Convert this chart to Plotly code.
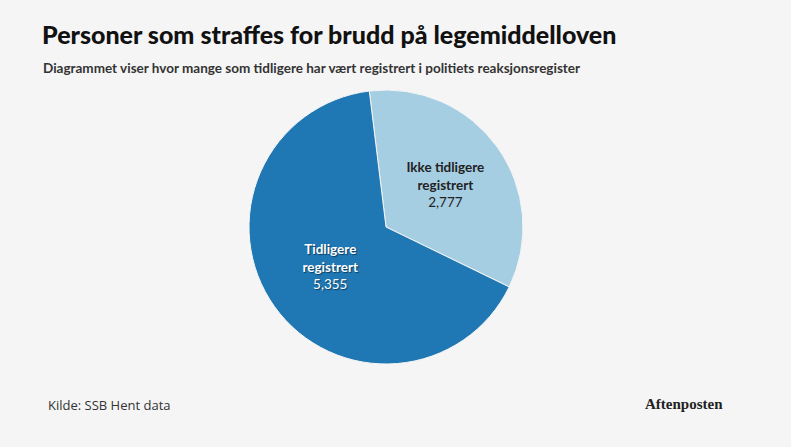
import plotly.graph_objects as go

# data
labels = ["Ikke tidligere<br>registrert", "Tidligere<br>registrert"]
values = [2777, 5355]
colors = ["#a6cee3", "#1f78b4"]
text_colors = ["#222222", "#ffffff"]

title = "Personer som straffes for brudd på legemiddelloven"
subtitle = "Diagrammet viser hvor mange som tidligere har vært registrert i politiets reaksjonsregister"
source = "Kilde: SSB Hent data"

FONT = "Lato, Roboto, sans-serif"
W, H = 791, 447
cx, cy, r = 386, 227, 137


def px_y(y):
    # pixel row from the top -> paper coordinate
    return 1 - y / H


fig = go.Figure()
fig.add_trace(go.Pie(
    labels=labels,
    values=values,
    sort=False,
    direction="clockwise",
    rotation=-7,
    marker=dict(colors=colors, line=dict(color="#f5f5f5", width=1)),
    texttemplate="<b>%{label}</b><br>%{value:,}",
    textposition="inside",
    insidetextorientation="horizontal",
    insidetextfont=dict(family=FONT, size=13.5, color=text_colors,
                        shadow=["none", "1px 1px 1px #0b3c61"]),
    hoverinfo="label+value",
    showlegend=False,
    domain=dict(x=[(cx - r) / W, (cx + r) / W], y=[px_y(cy + r), px_y(cy - r)]),
))

fig.update_layout(
    width=W, height=H,
    margin=dict(l=0, r=0, t=0, b=0),
    paper_bgcolor="#f5f5f5",
    plot_bgcolor="#f5f5f5",
    font=dict(family=FONT, color="#222222"),
    annotations=[
        dict(text=title, x=40 / W, y=px_y(34), xref="paper", yref="paper",
             xanchor="left", yanchor="middle", showarrow=False,
             font=dict(size=25, color="#111111", family=FONT, weight=900)),
        dict(text="<b>" + subtitle + "</b>", x=41 / W, y=px_y(68), xref="paper", yref="paper",
             xanchor="left", yanchor="middle", showarrow=False,
             font=dict(size=13.5, color="#333333", family=FONT)),
        dict(text=source, x=46 / W, y=px_y(405), xref="paper", yref="paper",
             xanchor="left", yanchor="middle", showarrow=False,
             font=dict(size=13, color="#333333", family="Open Sans, sans-serif")),
        dict(text="<b>Aftenposten</b>", x=725 / W, y=px_y(404), xref="paper", yref="paper",
             xanchor="right", yanchor="middle", showarrow=False,
             font=dict(size=15, color="#222222", family="Liberation Serif, serif")),
    ],
)

fig.write_html("out.html", config={"displayModeBar": False},
               post_script="document.body.style.margin='0';")
